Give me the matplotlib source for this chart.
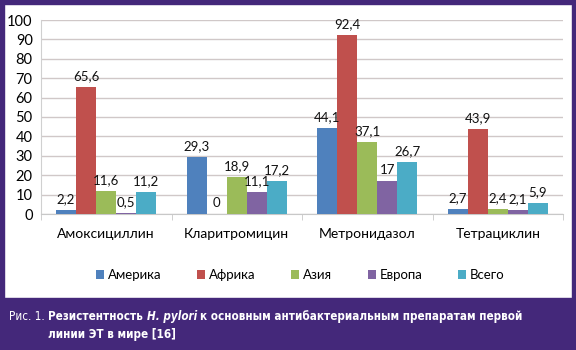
import matplotlib.pyplot as plt
import numpy as np
from matplotlib.patches import Rectangle

drugs = ['Амоксициллин', 'Кларитромицин', 'Метронидазол', 'Тетрациклин']
regions = ['Америка', 'Африка', 'Азия', 'Европа', 'Всего']
america = [2.2, 29.3, 44.1, 2.7]
africa = [65.6, 0, 92.4, 43.9]
asia = [11.6, 18.9, 37.1, 2.4]
europe = [0.5, 11.1, 17, 2.1]
total = [11.2, 17.2, 26.7, 5.9]
series = [america, africa, asia, europe, total]
colors = ['#4F81BD', '#C0504D', '#9BBB59', '#8064A2', '#4BACC6']
purple = '#44287A'

plt.rcParams['font.family'] = ['Lato', 'DejaVu Sans']

fig = plt.figure(figsize=(5.76, 3.5), dpi=100)
W, H = 576, 350

# purple frame + caption band
fig.patches.append(Rectangle((0, 0), 1, 52 / H, transform=fig.transFigure, color=purple, zorder=0))
fig.patches.append(Rectangle((0, 0), 4 / W, 1, transform=fig.transFigure, color=purple, zorder=0))
fig.patches.append(Rectangle((0, 1 - 4 / H), 1, 4 / H, transform=fig.transFigure, color=purple, zorder=0))
fig.patches.append(Rectangle((1 - 4 / W, 0), 4 / W, 1, transform=fig.transFigure, color=purple, zorder=0))

ax = fig.add_axes([41 / W, 136 / H, 522 / W, 194 / H])
x = np.arange(len(drugs))
bw = 0.154
for i, (vals, name, c) in enumerate(zip(series, regions, colors)):
    pos = x + (i - 2) * bw
    ax.bar(pos, vals, bw, color=c, label=name, zorder=3)
    for p, v in zip(pos, vals):
        ax.text(p, v + 2.5, f'{v:g}'.replace('.', ','), ha='center', va='bottom',
                fontsize=9.5, color='#111111', zorder=4)

ax.set_xlim(-0.5, 3.5)
ax.set_ylim(0, 100)
ax.set_yticks(range(0, 101, 10))
ax.yaxis.grid(True, color='#d0c8c8', lw=1)
ax.set_axisbelow(True)
for s in ['top', 'right']:
    ax.spines[s].set_visible(False)
ax.spines['left'].set_color('#d0d0d0')
ax.spines['bottom'].set_color('#c8c8c8')
ax.tick_params(axis='y', length=0, labelsize=10.5, pad=6)
ax.set_xticks(x)
ax.set_xticklabels(drugs, fontsize=10)
ax.tick_params(axis='x', length=0, pad=10)
ax.set_xticks([-0.5, 0.5, 1.5, 2.5, 3.5], minor=True)
ax.tick_params(axis='x', which='minor', length=4, color='#c8c8c8')

fig.legend(loc='center', bbox_to_anchor=(0.521, 75 / H), ncol=5, frameon=False,
           fontsize=9.5, handlelength=0.6, handleheight=0.6, handletextpad=0.3,
           columnspacing=2.7)

# caption
cap = dict(color='white', fontsize=8.4, family=['DejaVu Sans'], stretch='condensed')
t0 = fig.text(9 / W, 1 - 320 / H, 'Рис. 1. ', va='baseline', **cap)
a1 = fig.add_artist(plt.Annotation('Резистентность ', xy=(1, 0), xycoords=t0, va='bottom',
                                    weight='bold', **cap))
a2 = fig.add_artist(plt.Annotation('H. pylori ', xy=(1, 0), xycoords=a1, va='bottom',
                                    weight='bold', style='italic', **cap))
a3 = fig.add_artist(plt.Annotation('к основным антибактериальным препаратам первой', xy=(1, 0),
                                    xycoords=a2, va='bottom', weight='bold', **cap))
a4 = fig.add_artist(plt.Annotation('линии ЭТ в мире [16]', xy=(0, 0), xycoords=a1,
                                    xytext=(0, -13), textcoords='offset points', va='bottom',
                                    weight='bold', **cap))

fig.savefig('out.png', dpi=100)
